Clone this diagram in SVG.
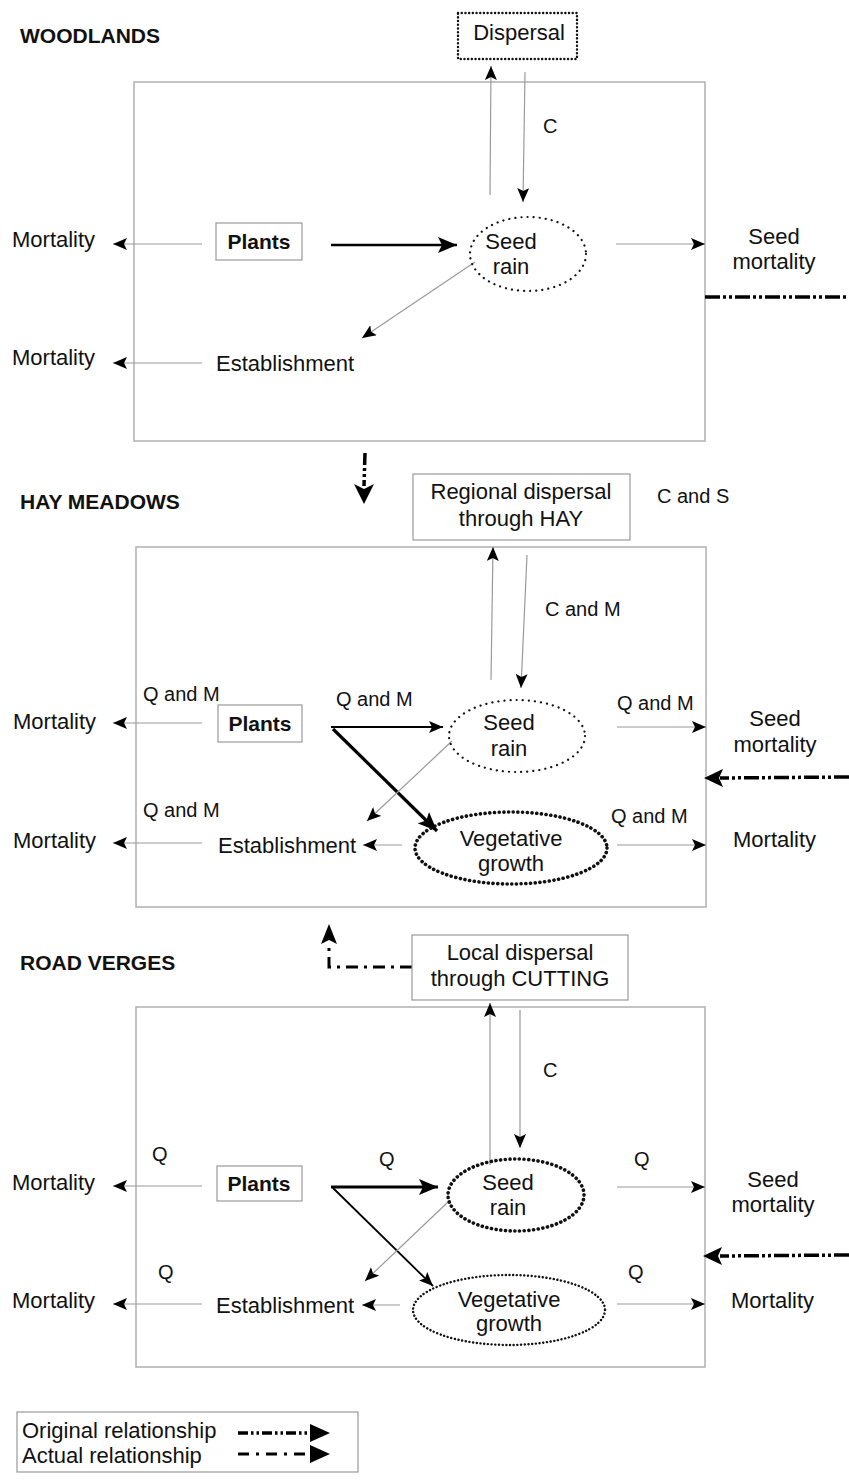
<svg xmlns="http://www.w3.org/2000/svg" width="849" height="1481" viewBox="0 0 849 1481">
<style>
text{font-family:"Liberation Sans",Arial,sans-serif;font-size:22px;fill:#111}
.t{font-size:20px}
.b{font-weight:bold;font-size:21px}
.m{text-anchor:middle}
.frame{fill:none;stroke:#b0b0b0;stroke-width:1.5}
.box{fill:#fff;stroke:#999;stroke-width:1.2}
.g{fill:none;stroke:#9a9a9a;stroke-width:1.2;marker-end:url(#ah)}
.k{fill:none;stroke:#000;stroke-width:1.8;marker-end:url(#ah)}
.kk{fill:none;stroke:#000;stroke-width:3.2;marker-end:url(#ahL)}
.dd{fill:none;stroke:#000;stroke-width:3.5;stroke-dasharray:15 3 3 3 3 3}
.dc{fill:none;stroke:#000;stroke-width:3;stroke-dasharray:12 6 3 6}
.dot1{fill:none;stroke:#111;stroke-width:2.2;stroke-linecap:round;stroke-dasharray:0.1 6}
.dot2{fill:none;stroke:#111;stroke-width:3.6;stroke-linecap:round;stroke-dasharray:0.1 4.6}
.dot3{fill:none;stroke:#111;stroke-width:2.4;stroke-linecap:round;stroke-dasharray:0.1 3.6}
</style>
<defs>
<marker id="ah" markerUnits="userSpaceOnUse" markerWidth="14" markerHeight="12" refX="14" refY="6" orient="auto"><path d="M0,0 L14,6 L0,12 L3,6 z" fill="#000"/></marker>
<marker id="ahL" markerUnits="userSpaceOnUse" markerWidth="19" markerHeight="16" refX="19" refY="8" orient="auto"><path d="M0,0 L19,8 L0,16 L4,8 z" fill="#000"/></marker>
</defs>

<!-- section titles -->
<text class="b" x="20" y="43">WOODLANDS</text>
<text class="b" x="20" y="509">HAY MEADOWS</text>
<text class="b" x="20" y="970">ROAD VERGES</text>

<!-- frames -->
<rect class="frame" x="134" y="82" width="571" height="359"/>
<rect class="frame" x="136" y="547" width="570" height="360"/>
<rect class="frame" x="136" y="1007" width="569" height="360"/>

<g id="connectors">
<!-- Woodlands -->
<line class="g" x1="490" y1="195" x2="491" y2="66"/>
<line class="g" x1="525" y1="72" x2="523" y2="202"/>
<line class="g" x1="202" y1="244" x2="113" y2="244"/>
<line class="kk" x1="331" y1="245" x2="457" y2="245" style="stroke-width:2.5"/>
<line class="g" x1="616" y1="244" x2="705" y2="244"/>
<line class="g" x1="475" y1="262" x2="362" y2="338"/>
<line class="g" x1="202" y1="363" x2="113" y2="363"/>
<line class="dd" x1="705" y1="297" x2="849" y2="297"/>
<!-- between W and HM -->
<path class="dd" d="M365,453 L364,486" style="stroke-dasharray:12 3 3 3 3 3"/>
<path d="M354,484 L364,504 L374,484 L364,489 z" fill="#000"/>
<!-- Hay meadows -->
<line class="g" x1="491" y1="680" x2="493" y2="547"/>
<line class="g" x1="527" y1="555" x2="521" y2="688"/>
<line class="g" x1="202" y1="723" x2="113" y2="723"/>
<line class="k" x1="331" y1="727" x2="443" y2="727"/>
<line class="kk" x1="333" y1="729" x2="437" y2="831"/>
<line class="g" x1="452" y1="741" x2="367" y2="821"/>
<line class="g" x1="402" y1="845" x2="363" y2="845"/>
<line class="g" x1="202" y1="843" x2="113" y2="843"/>
<line class="g" x1="617" y1="727" x2="706" y2="727"/>
<line class="g" x1="617" y1="845" x2="706" y2="845"/>
<line class="dd" x1="849" y1="777" x2="720" y2="778"/>
<path d="M704,778 L723,769 L719,778 L723,787 z" fill="#000"/>
<!-- between HM and RV -->
<path class="dc" d="M412,967 L329,967 L329,944"/>
<path d="M321,944 L329,924 L337,944 L329,940 z" fill="#000"/>
<!-- Road verges -->
<line class="g" x1="490" y1="1165" x2="490" y2="1003"/>
<line class="g" x1="520" y1="1010" x2="520" y2="1148"/>
<line class="g" x1="202" y1="1186" x2="113" y2="1186"/>
<line class="kk" x1="331" y1="1187" x2="438" y2="1187"/>
<line class="k" x1="333" y1="1188" x2="433" y2="1286"/>
<line class="g" x1="448" y1="1202" x2="365" y2="1281"/>
<line class="g" x1="400" y1="1305" x2="362" y2="1305"/>
<line class="g" x1="202" y1="1304" x2="113" y2="1304"/>
<line class="g" x1="617" y1="1187" x2="705" y2="1187"/>
<line class="g" x1="617" y1="1304" x2="705" y2="1304"/>
<line class="dd" x1="849" y1="1255" x2="720" y2="1256"/>
<path d="M703,1256 L722,1247 L718,1256 L722,1265 z" fill="#000"/>
</g>

<!-- Woodlands nodes -->
<g id="w-dispersal"><rect x="458" y="13" width="119" height="46" fill="#fff" class="dot3"/><text class="m" x="519" y="40">Dispersal</text></g>
<g id="w-c"><text class="t" x="543" y="133">C</text></g>
<g id="w-mort1"><text x="12" y="247">Mortality</text></g>
<g id="w-plants"><rect class="box" x="216" y="223" width="86" height="37"/><text class="b m" x="259" y="249">Plants</text></g>
<g id="w-seedrain"><ellipse class="dot1" cx="528" cy="254" rx="58" ry="37"/><text class="m" x="511" y="249">Seed</text><text class="m" x="511" y="274">rain</text></g>
<g id="w-seedmort"><text class="m" x="774" y="244">Seed</text><text class="m" x="774" y="269">mortality</text></g>
<g id="w-est"><text x="216" y="371">Establishment</text></g>
<g id="w-mort2"><text x="12" y="365">Mortality</text></g>

<!-- Hay meadows nodes -->
<g id="h-regional"><rect class="box" x="413" y="474" width="217" height="66"/><text class="m" x="521" y="499">Regional dispersal</text><text class="m" x="521" y="526">through HAY</text></g>
<g id="h-cs"><text class="t" x="657" y="503">C and S</text></g>
<g id="h-cm"><text class="t" x="545" y="616">C and M</text></g>
<g id="h-qm1"><text class="t" x="143" y="701">Q and M</text></g>
<g id="h-mort1"><text x="13" y="729">Mortality</text></g>
<g id="h-plants"><rect class="box" x="218" y="705" width="84" height="37"/><text class="b m" x="260" y="731">Plants</text></g>
<g id="h-qm2"><text class="t" x="336" y="706">Q and M</text></g>
<g id="h-seedrain"><ellipse class="dot1" cx="517" cy="736" rx="68" ry="36"/><text class="m" x="509" y="730">Seed</text><text class="m" x="509" y="756">rain</text></g>
<g id="h-qm3"><text class="t" x="617" y="710">Q and M</text></g>
<g id="h-seedmort"><text class="m" x="775" y="726">Seed</text><text class="m" x="775" y="752">mortality</text></g>
<g id="h-qm4"><text class="t" x="143" y="817">Q and M</text></g>
<g id="h-mort2"><text x="13" y="848">Mortality</text></g>
<g id="h-est"><text x="218" y="853">Establishment</text></g>
<g id="h-veg"><ellipse class="dot2" cx="511" cy="848" rx="96" ry="36"/><text class="m" x="511" y="846">Vegetative</text><text class="m" x="511" y="871">growth</text></g>
<g id="h-qm5"><text class="t" x="611" y="823">Q and M</text></g>
<g id="h-mort3"><text x="733" y="847">Mortality</text></g>

<!-- Road verges nodes -->
<g id="r-local"><rect class="box" x="412" y="935" width="216" height="65"/><text class="m" x="520" y="960">Local dispersal</text><text class="m" x="520" y="986">through CUTTING</text></g>
<g id="r-c"><text class="t" x="543" y="1077">C</text></g>
<g id="r-q1"><text class="t" x="152" y="1161">Q</text></g>
<g id="r-mort1"><text x="12" y="1190">Mortality</text></g>
<g id="r-plants"><rect class="box" x="217" y="1166" width="85" height="35"/><text class="b m" x="259" y="1191">Plants</text></g>
<g id="r-q2"><text class="t" x="379" y="1166">Q</text></g>
<g id="r-seedrain"><ellipse class="dot2" cx="516" cy="1195" rx="68" ry="36"/><text class="m" x="508" y="1190">Seed</text><text class="m" x="508" y="1215">rain</text></g>
<g id="r-q3"><text class="t" x="634" y="1166">Q</text></g>
<g id="r-seedmort"><text class="m" x="773" y="1187">Seed</text><text class="m" x="773" y="1212">mortality</text></g>
<g id="r-q4"><text class="t" x="158" y="1279">Q</text></g>
<g id="r-mort2"><text x="12" y="1308">Mortality</text></g>
<g id="r-est"><text x="216" y="1313">Establishment</text></g>
<g id="r-veg"><ellipse class="dot3" cx="509" cy="1310" rx="96" ry="35"/><text class="m" x="509" y="1307">Vegetative</text><text class="m" x="509" y="1331">growth</text></g>
<g id="r-q5"><text class="t" x="628" y="1279">Q</text></g>
<g id="r-mort3"><text x="731" y="1308">Mortality</text></g>

<!-- Legend -->
<g id="legend">
<rect class="box" x="17" y="1412" width="341" height="60"/>
<text x="22" y="1438">Original relationship</text>
<text x="22" y="1463">Actual relationship</text>
<line class="dd" x1="238" y1="1433" x2="313" y2="1433" style="stroke-dasharray:10 3 2.5 3 2.5 3"/>
<path d="M310,1424 L330,1433 L310,1442 z" fill="#000"/>
<line class="dc" x1="238" y1="1454" x2="313" y2="1454" style="stroke-dasharray:11 7 3 7"/>
<path d="M310,1445 L330,1454 L310,1463 z" fill="#000"/>
</g>
</svg>
